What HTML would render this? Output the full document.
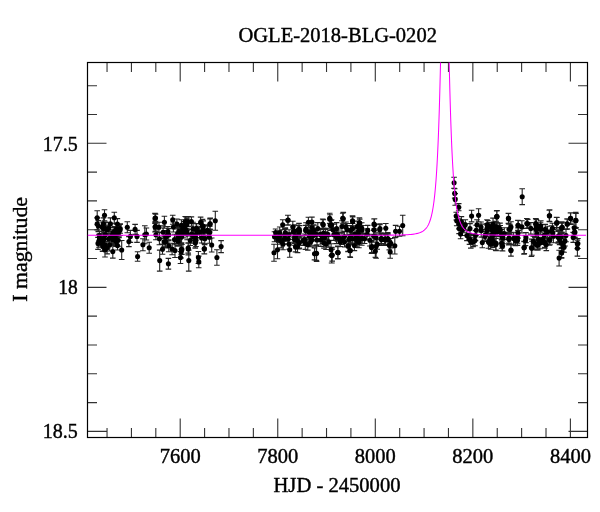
<!DOCTYPE html>
<html><head><meta charset="utf-8"><style>html,body{margin:0;padding:0;background:#fff;width:600px;height:512px;overflow:hidden}svg{display:block;will-change:transform}</style></head>
<body><svg width="600" height="512" viewBox="0 0 600 512" font-family="'Liberation Serif', serif" fill="#000">
<rect width="600" height="512" fill="#fff"/>
<path d="M107.04,437.5v-9.5 M107.04,62.5v9.5 M131.43,437.5v-9.5 M131.43,62.5v9.5 M155.81,437.5v-9.5 M155.81,62.5v9.5 M180.20,437.5v-19 M180.20,62.5v19 M204.59,437.5v-9.5 M204.59,62.5v9.5 M228.97,437.5v-9.5 M228.97,62.5v9.5 M253.36,437.5v-9.5 M253.36,62.5v9.5 M277.75,437.5v-19 M277.75,62.5v19 M302.14,437.5v-9.5 M302.14,62.5v9.5 M326.53,437.5v-9.5 M326.53,62.5v9.5 M350.91,437.5v-9.5 M350.91,62.5v9.5 M375.30,437.5v-19 M375.30,62.5v19 M399.69,437.5v-9.5 M399.69,62.5v9.5 M424.07,437.5v-9.5 M424.07,62.5v9.5 M448.46,437.5v-9.5 M448.46,62.5v9.5 M472.85,437.5v-19 M472.85,62.5v19 M497.24,437.5v-9.5 M497.24,62.5v9.5 M521.62,437.5v-9.5 M521.62,62.5v9.5 M546.01,437.5v-9.5 M546.01,62.5v9.5 M570.40,437.5v-19 M570.40,62.5v19 M87.5,85.68h9.5 M587.5,85.68h-9.5 M87.5,114.49h9.5 M587.5,114.49h-9.5 M87.5,143.30h19 M587.5,143.30h-19 M87.5,172.11h9.5 M587.5,172.11h-9.5 M87.5,200.92h9.5 M587.5,200.92h-9.5 M87.5,229.73h9.5 M587.5,229.73h-9.5 M87.5,258.54h9.5 M587.5,258.54h-9.5 M87.5,287.35h19 M587.5,287.35h-19 M87.5,316.16h9.5 M587.5,316.16h-9.5 M87.5,344.97h9.5 M587.5,344.97h-9.5 M87.5,373.78h9.5 M587.5,373.78h-9.5 M87.5,402.59h9.5 M587.5,402.59h-9.5 M87.5,431.40h19 M587.5,431.40h-19" fill="none" stroke="#333" stroke-width="1.1"/>
<rect x="87.5" y="62.5" width="500.0" height="375.0" fill="none" stroke="#000" stroke-width="1.2"/>
<path d="M108.7,222.7V233.7M105.9,222.7h5.6M105.9,233.7h5.6M111.5,231.6V243.1M108.7,231.6h5.6M108.7,243.1h5.6M116.2,237.0V246.4M113.4,237.0h5.6M113.4,246.4h5.6M105.0,238.8V250.6M102.2,238.8h5.6M102.2,250.6h5.6M99.0,234.4V247.3M96.2,234.4h5.6M96.2,247.3h5.6M120.2,223.7V233.3M117.4,223.7h5.6M117.4,233.3h5.6M98.3,220.5V231.6M95.5,220.5h5.6M95.5,231.6h5.6M99.4,231.4V240.5M96.6,231.4h5.6M96.6,240.5h5.6M108.7,233.5V244.2M105.9,233.5h5.6M105.9,244.2h5.6M117.4,218.6V229.6M114.6,218.6h5.6M114.6,229.6h5.6M113.2,227.4V238.2M110.4,227.4h5.6M110.4,238.2h5.6M117.3,227.7V239.6M114.5,227.7h5.6M114.5,239.6h5.6M105.3,230.1V239.4M102.5,230.1h5.6M102.5,239.4h5.6M115.6,234.4V245.0M112.8,234.4h5.6M112.8,245.0h5.6M117.5,241.0V250.0M114.7,241.0h5.6M114.7,250.0h5.6M102.8,234.2V247.1M100.0,234.2h5.6M100.0,247.1h5.6M107.1,225.1V234.4M104.3,225.1h5.6M104.3,234.4h5.6M112.5,230.3V239.7M109.7,230.3h5.6M109.7,239.7h5.6M105.6,222.1V235.0M102.8,222.1h5.6M102.8,235.0h5.6M115.4,233.2V242.6M112.6,233.2h5.6M112.6,242.6h5.6M99.4,231.5V243.6M96.6,231.5h5.6M96.6,243.6h5.6M102.1,222.0V231.8M99.3,222.0h5.6M99.3,231.8h5.6M114.8,226.5V236.0M112.0,226.5h5.6M112.0,236.0h5.6M112.8,234.5V244.4M110.0,234.5h5.6M110.0,244.4h5.6M104.2,232.4V245.3M101.4,232.4h5.6M101.4,245.3h5.6M116.5,224.2V234.1M113.7,224.2h5.6M113.7,234.1h5.6M107.1,241.5V253.9M104.3,241.5h5.6M104.3,253.9h5.6M102.9,241.4V251.4M100.1,241.4h5.6M100.1,251.4h5.6M115.8,226.6V235.9M113.0,226.6h5.6M113.0,235.9h5.6M100.1,233.5V244.8M97.3,233.5h5.6M97.3,244.8h5.6M103.6,223.2V234.0M100.8,223.2h5.6M100.8,234.0h5.6M120.1,224.5V235.5M117.3,224.5h5.6M117.3,235.5h5.6M111.2,232.2V241.8M108.4,232.2h5.6M108.4,241.8h5.6M118.9,224.6V236.8M116.1,224.6h5.6M116.1,236.8h5.6M103.7,231.9V244.6M100.9,231.9h5.6M100.9,244.6h5.6M102.5,238.3V251.1M99.7,238.3h5.6M99.7,251.1h5.6M186.7,226.3V235.7M183.9,226.3h5.6M183.9,235.7h5.6M163.1,225.8V238.6M160.3,225.8h5.6M160.3,238.6h5.6M168.7,228.6V240.8M165.9,228.6h5.6M165.9,240.8h5.6M178.7,226.5V236.6M175.9,226.5h5.6M175.9,236.6h5.6M166.9,230.6V240.5M164.1,230.6h5.6M164.1,240.5h5.6M177.7,227.6V240.0M174.9,227.6h5.6M174.9,240.0h5.6M179.2,228.6V238.4M176.4,228.6h5.6M176.4,238.4h5.6M162.5,244.1V254.2M159.7,244.1h5.6M159.7,254.2h5.6M174.5,234.2V244.7M171.7,234.2h5.6M171.7,244.7h5.6M178.0,232.6V242.1M175.2,232.6h5.6M175.2,242.1h5.6M172.1,243.2V254.8M169.3,243.2h5.6M169.3,254.8h5.6M181.4,219.7V231.0M178.6,219.7h5.6M178.6,231.0h5.6M165.9,230.8V243.4M163.1,230.8h5.6M163.1,243.4h5.6M181.6,229.8V242.7M178.8,229.8h5.6M178.8,242.7h5.6M185.5,223.5V235.4M182.7,223.5h5.6M182.7,235.4h5.6M193.0,222.3V235.3M190.2,222.3h5.6M190.2,235.3h5.6M186.9,218.3V230.9M184.1,218.3h5.6M184.1,230.9h5.6M203.4,225.3V237.1M200.6,225.3h5.6M200.6,237.1h5.6M204.8,232.9V244.7M202.0,232.9h5.6M202.0,244.7h5.6M207.5,224.9V237.4M204.7,224.9h5.6M204.7,237.4h5.6M195.4,231.4V242.7M192.6,231.4h5.6M192.6,242.7h5.6M200.6,217.1V227.7M197.8,217.1h5.6M197.8,227.7h5.6M199.6,226.3V237.9M196.8,226.3h5.6M196.8,237.9h5.6M209.8,226.2V238.7M207.0,226.2h5.6M207.0,238.7h5.6M203.2,220.9V232.2M200.4,220.9h5.6M200.4,232.2h5.6M196.0,234.1V246.5M193.2,234.1h5.6M193.2,246.5h5.6M187.1,228.3V239.7M184.3,228.3h5.6M184.3,239.7h5.6M197.0,227.6V237.5M194.2,227.6h5.6M194.2,237.5h5.6M202.5,219.4V232.1M199.7,219.4h5.6M199.7,232.1h5.6M191.4,229.6V238.7M188.6,229.6h5.6M188.6,238.7h5.6M289.1,229.7V239.4M286.3,229.7h5.6M286.3,239.4h5.6M311.5,227.2V238.8M308.7,227.2h5.6M308.7,238.8h5.6M294.4,233.6V245.3M291.6,233.6h5.6M291.6,245.3h5.6M285.3,227.8V238.6M282.5,227.8h5.6M282.5,238.6h5.6M307.8,239.6V250.1M305.0,239.6h5.6M305.0,250.1h5.6M299.6,225.6V235.8M296.8,225.6h5.6M296.8,235.8h5.6M309.4,230.3V242.1M306.6,230.3h5.6M306.6,242.1h5.6M313.2,230.1V240.9M310.4,230.1h5.6M310.4,240.9h5.6M288.2,234.1V243.9M285.4,234.1h5.6M285.4,243.9h5.6M293.3,226.8V237.0M290.5,226.8h5.6M290.5,237.0h5.6M309.0,225.4V238.3M306.2,225.4h5.6M306.2,238.3h5.6M294.7,230.9V243.4M291.9,230.9h5.6M291.9,243.4h5.6M279.5,230.7V242.5M276.7,230.7h5.6M276.7,242.5h5.6M299.1,228.3V237.3M296.3,228.3h5.6M296.3,237.3h5.6M283.0,238.8V249.7M280.2,238.8h5.6M280.2,249.7h5.6M278.9,233.0V242.5M276.1,233.0h5.6M276.1,242.5h5.6M279.7,227.0V238.5M276.9,227.0h5.6M276.9,238.5h5.6M294.5,224.9V237.1M291.7,224.9h5.6M291.7,237.1h5.6M313.5,224.8V236.6M310.7,224.8h5.6M310.7,236.6h5.6M285.4,228.4V237.4M282.6,228.4h5.6M282.6,237.4h5.6M295.5,230.6V242.4M292.7,230.6h5.6M292.7,242.4h5.6M284.6,229.5V241.2M281.8,229.5h5.6M281.8,241.2h5.6M297.3,234.8V246.3M294.5,234.8h5.6M294.5,246.3h5.6M306.0,222.7V235.4M303.2,222.7h5.6M303.2,235.4h5.6M281.2,235.1V247.9M278.4,235.1h5.6M278.4,247.9h5.6M304.7,234.0V245.5M301.9,234.0h5.6M301.9,245.5h5.6M311.7,234.8V245.3M308.9,234.8h5.6M308.9,245.3h5.6M299.0,236.1V248.9M296.2,236.1h5.6M296.2,248.9h5.6M333.2,224.1V235.7M330.4,224.1h5.6M330.4,235.7h5.6M320.2,228.6V240.2M317.4,228.6h5.6M317.4,240.2h5.6M345.9,222.0V231.8M343.1,222.0h5.6M343.1,231.8h5.6M336.8,228.2V240.4M334.0,228.2h5.6M334.0,240.4h5.6M326.0,239.1V249.5M323.2,239.1h5.6M323.2,249.5h5.6M314.1,225.3V236.1M311.3,225.3h5.6M311.3,236.1h5.6M337.5,232.1V241.2M334.7,232.1h5.6M334.7,241.2h5.6M350.5,225.6V234.9M347.7,225.6h5.6M347.7,234.9h5.6M350.0,232.0V244.2M347.2,232.0h5.6M347.2,244.2h5.6M317.0,235.2V244.8M314.2,235.2h5.6M314.2,244.8h5.6M335.8,228.5V240.3M333.0,228.5h5.6M333.0,240.3h5.6M357.3,221.1V232.0M354.5,221.1h5.6M354.5,232.0h5.6M357.5,233.5V244.6M354.7,233.5h5.6M354.7,244.6h5.6M324.5,231.9V243.8M321.7,231.9h5.6M321.7,243.8h5.6M341.9,220.8V232.1M339.1,220.8h5.6M339.1,232.1h5.6M325.6,229.4V239.9M322.8,229.4h5.6M322.8,239.9h5.6M352.3,232.6V245.0M349.5,232.6h5.6M349.5,245.0h5.6M358.4,228.5V239.5M355.6,228.5h5.6M355.6,239.5h5.6M338.6,232.4V243.4M335.8,232.4h5.6M335.8,243.4h5.6M340.3,237.3V246.5M337.5,237.3h5.6M337.5,246.5h5.6M358.5,224.9V237.1M355.7,224.9h5.6M355.7,237.1h5.6M338.1,230.0V241.0M335.3,230.0h5.6M335.3,241.0h5.6M344.5,236.4V247.0M341.7,236.4h5.6M341.7,247.0h5.6M357.8,232.2V244.8M355.0,232.2h5.6M355.0,244.8h5.6M323.5,228.1V238.8M320.7,228.1h5.6M320.7,238.8h5.6M350.8,230.1V242.7M348.0,230.1h5.6M348.0,242.7h5.6M333.8,228.9V240.4M331.0,228.9h5.6M331.0,240.4h5.6M356.3,234.2V243.7M353.5,234.2h5.6M353.5,243.7h5.6M349.0,234.3V244.2M346.2,234.3h5.6M346.2,244.2h5.6M344.4,231.3V241.6M341.6,231.3h5.6M341.6,241.6h5.6M327.8,228.3V240.2M325.0,228.3h5.6M325.0,240.2h5.6M316.1,228.9V239.9M313.3,228.9h5.6M313.3,239.9h5.6M322.5,232.6V243.4M319.7,232.6h5.6M319.7,243.4h5.6M328.8,236.5V247.1M326.0,236.5h5.6M326.0,247.1h5.6M336.5,232.1V243.6M333.7,232.1h5.6M333.7,243.6h5.6M341.9,233.3V244.4M339.1,233.3h5.6M339.1,244.4h5.6M352.6,223.5V233.4M349.8,223.5h5.6M349.8,233.4h5.6M347.0,223.5V235.8M344.2,223.5h5.6M344.2,235.8h5.6M355.1,227.9V240.6M352.3,227.9h5.6M352.3,240.6h5.6M320.9,233.5V246.5M318.1,233.5h5.6M318.1,246.5h5.6M387.8,232.5V244.4M385.0,232.5h5.6M385.0,244.4h5.6M364.6,234.1V243.5M361.8,234.1h5.6M361.8,243.5h5.6M385.8,223.5V233.0M383.0,223.5h5.6M383.0,233.0h5.6M369.9,234.3V246.0M367.1,234.3h5.6M367.1,246.0h5.6M355.7,232.0V244.6M352.9,232.0h5.6M352.9,244.6h5.6M390.8,238.5V247.9M388.0,238.5h5.6M388.0,247.9h5.6M373.7,230.4V242.2M370.9,230.4h5.6M370.9,242.2h5.6M362.0,225.5V234.7M359.2,225.5h5.6M359.2,234.7h5.6M358.9,236.6V247.7M356.1,236.6h5.6M356.1,247.7h5.6M376.0,232.7V242.3M373.2,232.7h5.6M373.2,242.3h5.6M361.8,232.3V245.2M359.0,232.3h5.6M359.0,245.2h5.6M389.3,240.5V249.9M386.5,240.5h5.6M386.5,249.9h5.6M357.3,235.3V247.3M354.5,235.3h5.6M354.5,247.3h5.6M367.1,228.9V239.8M364.3,228.9h5.6M364.3,239.8h5.6M374.1,225.3V234.4M371.3,225.3h5.6M371.3,234.4h5.6M380.9,232.7V245.1M378.1,232.7h5.6M378.1,245.1h5.6M361.7,222.8V233.5M358.9,222.8h5.6M358.9,233.5h5.6M362.2,233.5V243.2M359.4,233.5h5.6M359.4,243.2h5.6M492.5,230.3V242.1M489.7,230.3h5.6M489.7,242.1h5.6M494.7,225.1V236.5M491.9,225.1h5.6M491.9,236.5h5.6M481.2,224.1V237.0M478.4,224.1h5.6M478.4,237.0h5.6M492.6,228.3V240.3M489.8,228.3h5.6M489.8,240.3h5.6M493.0,218.1V230.7M490.2,218.1h5.6M490.2,230.7h5.6M488.4,236.1V248.2M485.6,236.1h5.6M485.6,248.2h5.6M491.1,222.4V231.7M488.3,222.4h5.6M488.3,231.7h5.6M475.0,234.9V245.8M472.2,234.9h5.6M472.2,245.8h5.6M462.4,224.0V235.5M459.6,224.0h5.6M459.6,235.5h5.6M470.8,235.4V248.1M468.0,235.4h5.6M468.0,248.1h5.6M487.3,224.7V236.0M484.5,224.7h5.6M484.5,236.0h5.6M482.3,237.2V247.8M479.5,237.2h5.6M479.5,247.8h5.6M500.0,223.1V235.2M497.2,223.1h5.6M497.2,235.2h5.6M499.2,223.2V232.3M496.4,223.2h5.6M496.4,232.3h5.6M485.4,229.4V240.0M482.6,229.4h5.6M482.6,240.0h5.6M492.5,225.5V235.3M489.7,225.5h5.6M489.7,235.3h5.6M508.8,232.4V245.0M506.0,232.4h5.6M506.0,245.0h5.6M517.5,232.1V243.2M514.7,232.1h5.6M514.7,243.2h5.6M521.9,220.8V233.0M519.1,220.8h5.6M519.1,233.0h5.6M493.8,222.1V231.3M491.0,222.1h5.6M491.0,231.3h5.6M536.5,224.4V234.0M533.7,224.4h5.6M533.7,234.0h5.6M513.6,232.7V244.1M510.8,232.7h5.6M510.8,244.1h5.6M492.9,234.7V247.5M490.1,234.7h5.6M490.1,247.5h5.6M511.0,221.8V232.2M508.2,221.8h5.6M508.2,232.2h5.6M504.3,227.8V239.5M501.5,227.8h5.6M501.5,239.5h5.6M518.0,227.9V238.1M515.2,227.9h5.6M515.2,238.1h5.6M490.7,239.3V249.3M487.9,239.3h5.6M487.9,249.3h5.6M492.1,235.3V245.9M489.3,235.3h5.6M489.3,245.9h5.6M534.9,237.4V249.4M532.1,237.4h5.6M532.1,249.4h5.6M493.7,227.7V240.3M490.9,227.7h5.6M490.9,240.3h5.6M502.2,231.7V242.8M499.4,231.7h5.6M499.4,242.8h5.6M536.9,227.4V240.3M534.1,227.4h5.6M534.1,240.3h5.6M530.8,222.6V234.1M528.0,222.6h5.6M528.0,234.1h5.6M495.8,225.4V235.2M493.0,225.4h5.6M493.0,235.2h5.6M492.6,224.8V235.9M489.8,224.8h5.6M489.8,235.9h5.6M496.2,221.2V232.1M493.4,221.2h5.6M493.4,232.1h5.6M503.1,232.5V243.8M500.3,232.5h5.6M500.3,243.8h5.6M553.4,229.8V242.8M550.6,229.8h5.6M550.6,242.8h5.6M574.2,221.8V233.7M571.4,221.8h5.6M571.4,233.7h5.6M546.3,238.5V250.6M543.5,238.5h5.6M543.5,250.6h5.6M561.4,238.1V248.5M558.6,238.1h5.6M558.6,248.5h5.6M547.6,226.2V237.6M544.8,226.2h5.6M544.8,237.6h5.6M561.7,221.9V233.9M558.9,221.9h5.6M558.9,233.9h5.6M544.4,228.8V241.4M541.6,228.8h5.6M541.6,241.4h5.6M538.5,234.1V244.8M535.7,234.1h5.6M535.7,244.8h5.6M561.3,232.1V241.5M558.5,232.1h5.6M558.5,241.5h5.6M558.1,231.4V243.1M555.3,231.4h5.6M555.3,243.1h5.6M558.5,230.4V241.9M555.7,230.4h5.6M555.7,241.9h5.6M551.6,225.7V236.1M548.8,225.7h5.6M548.8,236.1h5.6M566.0,229.4V241.7M563.2,229.4h5.6M563.2,241.7h5.6M539.9,237.2V248.7M537.1,237.2h5.6M537.1,248.7h5.6M97.2,210.7V224.7M94.4,210.7h5.6M94.4,224.7h5.6M97.2,217.9V229.9M94.4,217.9h5.6M94.4,229.9h5.6M104.5,209.8V220.8M101.7,209.8h5.6M101.7,220.8h5.6M114.3,212.2V223.2M111.5,212.2h5.6M111.5,223.2h5.6M110.4,217.9V229.9M107.6,217.9h5.6M107.6,229.9h5.6M103.4,217.9V229.9M100.6,217.9h5.6M100.6,229.9h5.6M127.3,221.8V232.8M124.5,221.8h5.6M124.5,232.8h5.6M135.1,224.4V234.4M132.3,224.4h5.6M132.3,234.4h5.6M144.8,225.8V243.8M142.0,225.8h5.6M142.0,243.8h5.6M146.4,228.0V240.0M143.6,228.0h5.6M143.6,240.0h5.6M130.4,230.4V242.4M127.6,230.4h5.6M127.6,242.4h5.6M137.0,230.4V242.4M134.2,230.4h5.6M134.2,242.4h5.6M128.9,236.6V246.6M126.1,236.6h5.6M126.1,246.6h5.6M142.9,238.7V250.7M140.1,238.7h5.6M140.1,250.7h5.6M149.2,242.2V253.2M146.4,242.2h5.6M146.4,253.2h5.6M137.6,251.8V261.2M134.8,251.8h5.6M134.8,261.2h5.6M105.0,243.0V257.0M102.2,243.0h5.6M102.2,257.0h5.6M112.8,245.1V258.1M110.0,245.1h5.6M110.0,258.1h5.6M121.7,240.5V259.5M118.9,240.5h5.6M118.9,259.5h5.6M155.0,213.4V223.4M152.2,213.4h5.6M152.2,223.4h5.6M155.0,222.0V232.0M152.2,222.0h5.6M152.2,232.0h5.6M119.0,225.7V237.7M116.2,225.7h5.6M116.2,237.7h5.6M118.2,234.3V246.3M115.5,234.3h5.6M115.5,246.3h5.6M98.0,237.4V249.4M95.2,237.4h5.6M95.2,249.4h5.6M109.7,239.0V251.0M106.9,239.0h5.6M106.9,251.0h5.6M155.5,214.1V222.1M152.7,214.1h5.6M152.7,222.1h5.6M155.5,221.2V231.2M152.7,221.2h5.6M152.7,231.2h5.6M164.4,216.3V228.3M161.6,216.3h5.6M161.6,228.3h5.6M172.7,215.2V224.2M169.9,215.2h5.6M169.9,224.2h5.6M173.4,222.0V232.0M170.6,222.0h5.6M170.6,232.0h5.6M186.0,217.0V229.0M183.2,217.0h5.6M183.2,229.0h5.6M191.4,216.9V226.3M188.6,216.9h5.6M188.6,226.3h5.6M196.1,223.6V233.6M193.3,223.6h5.6M193.3,233.6h5.6M210.2,218.1V229.7M207.4,218.1h5.6M207.4,229.7h5.6M215.3,211.3V230.3M212.5,211.3h5.6M212.5,230.3h5.6M204.7,226.0V236.0M201.9,226.0h5.6M201.9,236.0h5.6M159.4,232.8V244.8M156.6,232.8h5.6M156.6,244.8h5.6M165.6,235.9V247.9M162.8,235.9h5.6M162.8,247.9h5.6M168.8,239.8V251.8M165.9,239.8h5.6M165.9,251.8h5.6M175.0,243.5V257.5M172.2,243.5h5.6M172.2,257.5h5.6M181.2,246.0V258.0M178.4,246.0h5.6M178.4,258.0h5.6M188.3,242.9V254.9M185.5,242.9h5.6M185.5,254.9h5.6M180.5,251.5V263.5M177.7,251.5h5.6M177.7,263.5h5.6M188.8,250.1V271.1M185.9,250.1h5.6M185.9,271.1h5.6M159.7,250.1V271.1M156.9,250.1h5.6M156.9,271.1h5.6M168.4,258.4V269.1M165.6,258.4h5.6M165.6,269.1h5.6M198.4,251.5V263.5M195.6,251.5h5.6M195.6,263.5h5.6M198.8,256.1V267.7M195.9,256.1h5.6M195.9,267.7h5.6M204.4,243.9V253.9M201.6,243.9h5.6M201.6,253.9h5.6M211.7,238.0V252.0M208.9,238.0h5.6M208.9,252.0h5.6M221.1,240.6V252.6M218.3,240.6h5.6M218.3,252.6h5.6M216.9,249.7V265.3M214.1,249.7h5.6M214.1,265.3h5.6M195.3,235.9V247.9M192.5,235.9h5.6M192.5,247.9h5.6M193.8,231.2V243.2M190.9,231.2h5.6M190.9,243.2h5.6M181.2,231.2V243.2M178.4,231.2h5.6M178.4,243.2h5.6M209.4,231.2V243.2M206.6,231.2h5.6M206.6,243.2h5.6M288.1,215.3V224.7M285.3,215.3h5.6M285.3,224.7h5.6M282.7,219.7V229.7M279.9,219.7h5.6M279.9,229.7h5.6M292.8,221.2V232.8M290.0,221.2h5.6M290.0,232.8h5.6M308.4,217.3V227.3M305.6,217.3h5.6M305.6,227.3h5.6M323.3,219.7V229.7M320.5,219.7h5.6M320.5,229.7h5.6M330.0,214.7V223.7M327.2,214.7h5.6M327.2,223.7h5.6M331.1,220.5V230.5M328.3,220.5h5.6M328.3,230.5h5.6M275.6,229.0V236.0M272.8,229.0h5.6M272.8,236.0h5.6M274.0,244.3V261.3M271.2,244.3h5.6M271.2,261.3h5.6M277.5,240.7V258.7M274.7,240.7h5.6M274.7,258.7h5.6M289.7,242.2V257.2M286.9,242.2h5.6M286.9,257.2h5.6M316.6,245.8V261.4M313.8,245.8h5.6M313.8,261.4h5.6M331.1,243.7V255.7M328.3,243.7h5.6M328.3,255.7h5.6M331.9,247.4V263.0M329.1,247.4h5.6M329.1,263.0h5.6M338.0,246.8V258.8M335.2,246.8h5.6M335.2,258.8h5.6M336.6,222.6V234.6M333.8,222.6h5.6M333.8,234.6h5.6M299.0,223.4V235.4M296.2,223.4h5.6M296.2,235.4h5.6M317.8,222.6V234.6M315.0,222.6h5.6M315.0,234.6h5.6M297.5,240.6V252.6M294.7,240.6h5.6M294.7,252.6h5.6M305.3,237.4V249.4M302.5,237.4h5.6M302.5,249.4h5.6M343.3,212.4V225.1M340.5,212.4h5.6M340.5,225.1h5.6M352.7,216.9V226.3M349.9,216.9h5.6M349.9,226.3h5.6M359.7,219.1V227.1M356.9,219.1h5.6M356.9,227.1h5.6M374.5,218.7V230.7M371.7,218.7h5.6M371.7,230.7h5.6M380.0,223.9V233.3M377.2,223.9h5.6M377.2,233.3h5.6M395.6,225.4V237.1M392.8,225.4h5.6M392.8,237.1h5.6M399.5,226.2V236.2M396.7,226.2h5.6M396.7,236.2h5.6M402.7,215.3V235.7M399.9,215.3h5.6M399.9,235.7h5.6M331.6,219.7V229.7M328.8,219.7h5.6M328.8,229.7h5.6M384.7,233.5V245.5M381.9,233.5h5.6M381.9,245.5h5.6M387.8,233.5V245.5M385.0,233.5h5.6M385.0,245.5h5.6M381.6,233.5V245.5M378.8,233.5h5.6M378.8,245.5h5.6M394.8,237.6V254.0M392.0,237.6h5.6M392.0,254.0h5.6M390.2,245.7V258.3M387.4,245.7h5.6M387.4,258.3h5.6M376.1,234.9V258.3M373.3,234.9h5.6M373.3,258.3h5.6M371.9,240.6V252.6M369.1,240.6h5.6M369.1,252.6h5.6M350.3,243.5V257.5M347.5,243.5h5.6M347.5,257.5h5.6M337.8,246.0V259.0M335.0,246.0h5.6M335.0,259.0h5.6M331.6,247.4V263.0M328.8,247.4h5.6M328.8,263.0h5.6M348.0,239.8V251.8M345.2,239.8h5.6M345.2,251.8h5.6M375.3,245.2V257.2M372.5,245.2h5.6M372.5,257.2h5.6M454.1,177.2V188.4M451.3,177.2h5.6M451.3,188.4h5.6M454.7,188.7V198.1M451.9,188.7h5.6M451.9,198.1h5.6M455.2,193.6V205.2M452.4,193.6h5.6M452.4,205.2h5.6M458.8,203.6V210.8M455.9,203.6h5.6M455.9,210.8h5.6M456.2,212.2V220.0M453.4,212.2h5.6M453.4,220.0h5.6M456.7,215.8V225.8M453.9,215.8h5.6M453.9,225.8h5.6M459.1,218.9V228.9M456.3,218.9h5.6M456.3,228.9h5.6M461.4,216.6V226.6M458.6,216.6h5.6M458.6,226.6h5.6M459.1,223.6V233.6M456.3,223.6h5.6M456.3,233.6h5.6M460.6,229.3V238.7M457.8,229.3h5.6M457.8,238.7h5.6M471.6,210.3V221.9M468.8,210.3h5.6M468.8,221.9h5.6M478.6,208.8V221.8M475.8,208.8h5.6M475.8,221.8h5.6M470.0,223.6V233.6M467.2,223.6h5.6M467.2,233.6h5.6M477.0,219.7V229.7M474.2,219.7h5.6M474.2,229.7h5.6M481.0,222.0V232.0M478.2,222.0h5.6M478.2,232.0h5.6M476.2,225.2V235.2M473.4,225.2h5.6M473.4,235.2h5.6M466.9,230.6V240.6M464.1,230.6h5.6M464.1,240.6h5.6M470.0,234.5V244.5M467.2,234.5h5.6M467.2,244.5h5.6M473.1,237.2V246.6M470.3,237.2h5.6M470.3,246.6h5.6M475.5,230.6V240.6M472.7,230.6h5.6M472.7,240.6h5.6M465.3,219.7V229.7M462.5,219.7h5.6M462.5,229.7h5.6M463.8,222.8V232.8M460.9,222.8h5.6M460.9,232.8h5.6M487.0,219.8V229.6M484.2,219.8h5.6M484.2,229.6h5.6M487.0,223.6V233.6M484.2,223.6h5.6M484.2,233.6h5.6M496.8,211.0V222.8M493.9,211.0h5.6M493.9,222.8h5.6M469.4,234.3V244.3M466.6,234.3h5.6M466.6,244.3h5.6M485.0,231.4V241.4M482.2,231.4h5.6M482.2,241.4h5.6M490.9,233.4V245.2M488.1,233.4h5.6M488.1,245.2h5.6M495.8,238.4V250.0M493.0,238.4h5.6M493.0,250.0h5.6M497.7,226.5V236.5M494.9,226.5h5.6M494.9,236.5h5.6M501.6,229.5V239.5M498.8,229.5h5.6M498.8,239.5h5.6M501.6,238.2V248.2M498.8,238.2h5.6M498.8,248.2h5.6M522.2,188.8V204.6M519.4,188.8h5.6M519.4,204.6h5.6M496.7,210.7V222.5M493.9,210.7h5.6M493.9,222.5h5.6M508.6,213.4V223.8M505.8,213.4h5.6M505.8,223.8h5.6M487.8,220.5V230.5M485.0,220.5h5.6M485.0,230.5h5.6M497.1,223.3V233.3M494.3,223.3h5.6M494.3,233.3h5.6M490.2,234.4V244.4M487.4,234.4h5.6M487.4,244.4h5.6M496.1,235.8V250.6M493.3,235.8h5.6M493.3,250.6h5.6M502.6,241.0V251.0M499.8,241.0h5.6M499.8,251.0h5.6M511.0,245.0V256.2M508.2,245.0h5.6M508.2,256.2h5.6M524.0,241.3V254.3M521.2,241.3h5.6M521.2,254.3h5.6M531.4,239.1V256.5M528.6,239.1h5.6M528.6,256.5h5.6M538.0,240.0V250.0M535.2,240.0h5.6M535.2,250.0h5.6M510.0,224.2V234.2M507.2,224.2h5.6M507.2,234.2h5.6M518.4,220.5V230.5M515.6,220.5h5.6M515.6,230.5h5.6M527.7,219.4V228.0M524.9,219.4h5.6M524.9,228.0h5.6M536.1,219.0V232.0M533.3,219.0h5.6M533.3,232.0h5.6M540.7,224.2V234.2M537.9,224.2h5.6M537.9,234.2h5.6M509.1,234.4V244.4M506.3,234.4h5.6M506.3,244.4h5.6M517.5,235.4V245.4M514.7,235.4h5.6M514.7,245.4h5.6M525.9,232.6V242.6M523.1,232.6h5.6M523.1,242.6h5.6M533.3,236.3V246.3M530.5,236.3h5.6M530.5,246.3h5.6M542.6,234.4V244.4M539.8,234.4h5.6M539.8,244.4h5.6M549.6,209.9V221.6M546.8,209.9h5.6M546.8,221.6h5.6M570.7,212.8V224.4M567.9,212.8h5.6M567.9,224.4h5.6M575.7,212.4V228.4M572.9,212.4h5.6M572.9,228.4h5.6M556.6,217.4V229.0M553.8,217.4h5.6M553.8,229.0h5.6M567.4,219.1V229.1M564.6,219.1h5.6M564.6,229.1h5.6M540.8,220.7V230.7M538.0,220.7h5.6M538.0,230.7h5.6M552.4,223.2V233.2M549.6,223.2h5.6M549.6,233.2h5.6M561.6,223.2V233.2M558.8,223.2h5.6M558.8,233.2h5.6M574.9,227.4V237.4M572.1,227.4h5.6M572.1,237.4h5.6M537.5,239.8V249.8M534.7,239.8h5.6M534.7,249.8h5.6M545.0,238.2V248.2M542.2,238.2h5.6M542.2,248.2h5.6M550.0,234.8V244.8M547.2,234.8h5.6M547.2,244.8h5.6M563.2,238.2V248.2M560.4,238.2h5.6M560.4,248.2h5.6M564.1,242.3V252.3M561.3,242.3h5.6M561.3,252.3h5.6M561.6,248.1V258.1M558.8,248.1h5.6M558.8,258.1h5.6M559.1,250.2V266.0M556.3,250.2h5.6M556.3,266.0h5.6M577.9,238.5V248.5M575.1,238.5h5.6M575.1,248.5h5.6M577.4,240.3V256.1M574.6,240.3h5.6M574.6,256.1h5.6M573.2,232.4V242.4M570.4,232.4h5.6M570.4,242.4h5.6M155.9,229.8V239.8M153.1,229.8h5.6M153.1,239.8h5.6M159.0,222.2V232.2M156.2,222.2h5.6M156.2,232.2h5.6M167.9,226.6V236.6M165.1,226.6h5.6M165.1,236.6h5.6M164.1,236.8V246.8M161.3,236.8h5.6M161.3,246.8h5.6M178.0,235.5V245.5M175.2,235.5h5.6M175.2,245.5h5.6M184.4,221.6V231.6M181.6,221.6h5.6M181.6,231.6h5.6M183.1,227.9V237.9M180.3,227.9h5.6M180.3,237.9h5.6M188.2,216.5V226.5M185.4,216.5h5.6M185.4,226.5h5.6M188.2,243.1V253.1M185.4,243.1h5.6M185.4,253.1h5.6M181.9,244.4V254.4M179.1,244.4h5.6M179.1,254.4h5.6M185.2,216.5V226.5M182.4,216.5h5.6M182.4,226.5h5.6M209.9,219.0V229.0M207.1,219.0h5.6M207.1,229.0h5.6M196.6,223.5V233.5M193.8,223.5h5.6M193.8,233.5h5.6M202.9,224.7V234.7M200.1,224.7h5.6M200.1,234.7h5.6M207.4,225.4V235.4M204.6,225.4h5.6M204.6,235.4h5.6M182.6,224.1V234.1M179.8,224.1h5.6M179.8,234.1h5.6M176.9,219.0V229.0M174.1,219.0h5.6M174.1,229.0h5.6M178.2,236.2V246.2M175.4,236.2h5.6M175.4,246.2h5.6M190.2,235.5V245.5M187.4,235.5h5.6M187.4,245.5h5.6M195.3,238.1V248.1M192.5,238.1h5.6M192.5,248.1h5.6M204.2,243.8V253.8M201.4,243.8h5.6M201.4,253.8h5.6M181.3,244.4V254.4M178.5,244.4h5.6M178.5,254.4h5.6M194.0,230.5V240.5M191.2,230.5h5.6M191.2,240.5h5.6M201.6,233.0V243.0M198.8,233.0h5.6M198.8,243.0h5.6M287.8,215.2V225.2M285.0,215.2h5.6M285.0,225.2h5.6M274.5,231.7V241.7M271.7,231.7h5.6M271.7,241.7h5.6M289.1,239.3V249.3M286.3,239.3h5.6M286.3,249.3h5.6M295.5,241.9V251.9M292.7,241.9h5.6M292.7,251.9h5.6M299.3,238.1V248.1M296.5,238.1h5.6M296.5,248.1h5.6M298.0,225.4V235.4M295.2,225.4h5.6M295.2,235.4h5.6M305.6,225.4V235.4M302.8,225.4h5.6M302.8,235.4h5.6M312.0,222.8V232.8M309.2,222.8h5.6M309.2,232.8h5.6M303.0,235.5V245.5M300.2,235.5h5.6M300.2,245.5h5.6M310.7,236.8V246.8M307.9,236.8h5.6M307.9,246.8h5.6M314.5,247.9V259.9M311.7,247.9h5.6M311.7,259.9h5.6M277.7,234.3V244.3M274.9,234.3h5.6M274.9,244.3h5.6M284.0,234.3V244.3M281.2,234.3h5.6M281.2,244.3h5.6M329.7,213.3V223.3M326.9,213.3h5.6M326.9,223.3h5.6M342.7,213.3V223.3M339.9,213.3h5.6M339.9,223.3h5.6M352.5,215.9V225.9M349.7,215.9h5.6M349.7,225.9h5.6M322.7,219.0V229.0M319.9,219.0h5.6M319.9,229.0h5.6M330.3,220.3V230.3M327.5,220.3h5.6M327.5,230.3h5.6M316.3,246.2V260.2M313.5,246.2h5.6M313.5,260.2h5.6M332.2,249.1V261.1M329.4,249.1h5.6M329.4,261.1h5.6M337.9,246.6V258.6M335.1,246.6h5.6M335.1,258.6h5.6M350.0,244.7V256.7M347.2,244.7h5.6M347.2,256.7h5.6M348.1,241.2V251.2M345.3,241.2h5.6M345.3,251.2h5.6M354.4,240.6V250.6M351.6,240.6h5.6M351.6,250.6h5.6M324.0,238.1V248.1M321.2,238.1h5.6M321.2,248.1h5.6M311.9,217.1V227.1M309.1,217.1h5.6M309.1,227.1h5.6M374.0,219.0V229.0M371.2,219.0h5.6M371.2,229.0h5.6M379.7,224.7V234.7M376.9,224.7h5.6M376.9,234.7h5.6M381.6,233.6V243.6M378.8,233.6h5.6M378.8,243.6h5.6M385.5,234.9V244.9M382.7,234.9h5.6M382.7,244.9h5.6M388.0,234.3V244.3M385.2,234.3h5.6M385.2,244.3h5.6M359.4,217.8V227.8M356.6,217.8h5.6M356.6,227.8h5.6M367.7,225.4V235.4M364.9,225.4h5.6M364.9,235.4h5.6M377.2,239.3V249.3M374.4,239.3h5.6M374.4,249.3h5.6M371.5,241.5V253.5M368.7,241.5h5.6M368.7,253.5h5.6M497.0,210.5V222.5M494.2,210.5h5.6M494.2,222.5h5.6M508.4,213.4V223.4M505.6,213.4h5.6M505.6,223.4h5.6M510.9,244.1V256.1M508.1,244.1h5.6M508.1,256.1h5.6M524.3,241.6V253.6M521.5,241.6h5.6M521.5,253.6h5.6M531.9,241.2V255.2M529.1,241.2h5.6M529.1,255.2h5.6M495.7,238.4V250.4M492.9,238.4h5.6M492.9,250.4h5.6M502.0,240.7V250.7M499.2,240.7h5.6M499.2,250.7h5.6M496.3,225.5V235.5M493.5,225.5h5.6M493.5,235.5h5.6M500.2,225.5V235.5M497.4,225.5h5.6M497.4,235.5h5.6M509.0,224.2V234.2M506.2,224.2h5.6M506.2,234.2h5.6M517.9,220.4V230.4M515.1,220.4h5.6M515.1,230.4h5.6M526.8,218.5V228.5M524.0,218.5h5.6M524.0,228.5h5.6M535.7,218.5V228.5M532.9,218.5h5.6M532.9,228.5h5.6M535.7,224.2V234.2M532.9,224.2h5.6M532.9,234.2h5.6M515.4,235.6V245.6M512.6,235.6h5.6M512.6,245.6h5.6M525.5,235.6V245.6M522.7,235.6h5.6M522.7,245.6h5.6M509.0,233.1V243.1M506.2,233.1h5.6M506.2,243.1h5.6M490.0,234.3V244.3M487.2,234.3h5.6M487.2,244.3h5.6M549.3,210.2V221.2M546.5,210.2h5.6M546.5,221.2h5.6M570.5,212.9V223.9M567.7,212.9h5.6M567.7,223.9h5.6M576.0,213.5V227.5M573.2,213.5h5.6M573.2,227.5h5.6M556.9,217.5V227.5M554.1,217.5h5.6M554.1,227.5h5.6M567.1,218.9V228.9M564.3,218.9h5.6M564.3,228.9h5.6M562.3,222.3V232.3M559.5,222.3h5.6M559.5,232.3h5.6M540.5,222.3V232.3M537.7,222.3h5.6M537.7,232.3h5.6M536.4,219.6V229.6M533.6,219.6h5.6M533.6,229.6h5.6M545.2,224.4V234.4M542.4,224.4h5.6M542.4,234.4h5.6M574.6,227.1V237.1M571.8,227.1h5.6M571.8,237.1h5.6M537.0,240.1V250.1M534.2,240.1h5.6M534.2,250.1h5.6M544.6,237.3V247.3M541.8,237.3h5.6M541.8,247.3h5.6M549.3,235.3V245.3M546.5,235.3h5.6M546.5,245.3h5.6M563.0,242.1V252.1M560.2,242.1h5.6M560.2,252.1h5.6M561.6,247.6V257.6M558.8,247.6h5.6M558.8,257.6h5.6M577.3,238.7V248.7M574.5,238.7h5.6M574.5,248.7h5.6M559.6,234.6V244.6M556.8,234.6h5.6M556.8,244.6h5.6M565.0,236.0V246.0M562.2,236.0h5.6M562.2,246.0h5.6M552.8,227.8V237.8M550.0,227.8h5.6M550.0,237.8h5.6" fill="none" stroke="#222" stroke-width="1.1"/>
<g fill="#000"><circle cx="108.7" cy="228.2" r="2.55"/><circle cx="111.5" cy="237.3" r="2.55"/><circle cx="116.2" cy="241.7" r="2.55"/><circle cx="105.0" cy="244.7" r="2.55"/><circle cx="99.0" cy="240.9" r="2.55"/><circle cx="120.2" cy="228.5" r="2.55"/><circle cx="98.3" cy="226.0" r="2.55"/><circle cx="99.4" cy="235.9" r="2.55"/><circle cx="108.7" cy="238.8" r="2.55"/><circle cx="117.4" cy="224.1" r="2.55"/><circle cx="113.2" cy="232.8" r="2.55"/><circle cx="117.3" cy="233.7" r="2.55"/><circle cx="105.3" cy="234.7" r="2.55"/><circle cx="115.6" cy="239.7" r="2.55"/><circle cx="117.5" cy="245.5" r="2.55"/><circle cx="102.8" cy="240.7" r="2.55"/><circle cx="107.1" cy="229.8" r="2.55"/><circle cx="112.5" cy="235.0" r="2.55"/><circle cx="105.6" cy="228.5" r="2.55"/><circle cx="115.4" cy="237.9" r="2.55"/><circle cx="99.4" cy="237.6" r="2.55"/><circle cx="102.1" cy="226.9" r="2.55"/><circle cx="114.8" cy="231.2" r="2.55"/><circle cx="112.8" cy="239.4" r="2.55"/><circle cx="104.2" cy="238.9" r="2.55"/><circle cx="116.5" cy="229.1" r="2.55"/><circle cx="107.1" cy="247.7" r="2.55"/><circle cx="102.9" cy="246.4" r="2.55"/><circle cx="115.8" cy="231.2" r="2.55"/><circle cx="100.1" cy="239.2" r="2.55"/><circle cx="103.6" cy="228.6" r="2.55"/><circle cx="120.1" cy="230.0" r="2.55"/><circle cx="111.2" cy="237.0" r="2.55"/><circle cx="118.9" cy="230.7" r="2.55"/><circle cx="103.7" cy="238.2" r="2.55"/><circle cx="102.5" cy="244.7" r="2.55"/><circle cx="186.7" cy="231.0" r="2.55"/><circle cx="163.1" cy="232.2" r="2.55"/><circle cx="168.7" cy="234.7" r="2.55"/><circle cx="178.7" cy="231.6" r="2.55"/><circle cx="166.9" cy="235.6" r="2.55"/><circle cx="177.7" cy="233.8" r="2.55"/><circle cx="179.2" cy="233.5" r="2.55"/><circle cx="162.5" cy="249.2" r="2.55"/><circle cx="174.5" cy="239.5" r="2.55"/><circle cx="178.0" cy="237.4" r="2.55"/><circle cx="172.1" cy="249.0" r="2.55"/><circle cx="181.4" cy="225.3" r="2.55"/><circle cx="165.9" cy="237.1" r="2.55"/><circle cx="181.6" cy="236.2" r="2.55"/><circle cx="185.5" cy="229.5" r="2.55"/><circle cx="193.0" cy="228.8" r="2.55"/><circle cx="186.9" cy="224.6" r="2.55"/><circle cx="203.4" cy="231.2" r="2.55"/><circle cx="204.8" cy="238.8" r="2.55"/><circle cx="207.5" cy="231.2" r="2.55"/><circle cx="195.4" cy="237.0" r="2.55"/><circle cx="200.6" cy="222.4" r="2.55"/><circle cx="199.6" cy="232.1" r="2.55"/><circle cx="209.8" cy="232.4" r="2.55"/><circle cx="203.2" cy="226.5" r="2.55"/><circle cx="196.0" cy="240.3" r="2.55"/><circle cx="187.1" cy="234.0" r="2.55"/><circle cx="197.0" cy="232.5" r="2.55"/><circle cx="202.5" cy="225.7" r="2.55"/><circle cx="191.4" cy="234.1" r="2.55"/><circle cx="289.1" cy="234.5" r="2.55"/><circle cx="311.5" cy="233.0" r="2.55"/><circle cx="294.4" cy="239.5" r="2.55"/><circle cx="285.3" cy="233.2" r="2.55"/><circle cx="307.8" cy="244.8" r="2.55"/><circle cx="299.6" cy="230.7" r="2.55"/><circle cx="309.4" cy="236.2" r="2.55"/><circle cx="313.2" cy="235.5" r="2.55"/><circle cx="288.2" cy="239.0" r="2.55"/><circle cx="293.3" cy="231.9" r="2.55"/><circle cx="309.0" cy="231.9" r="2.55"/><circle cx="294.7" cy="237.1" r="2.55"/><circle cx="279.5" cy="236.6" r="2.55"/><circle cx="299.1" cy="232.8" r="2.55"/><circle cx="283.0" cy="244.3" r="2.55"/><circle cx="278.9" cy="237.8" r="2.55"/><circle cx="279.7" cy="232.8" r="2.55"/><circle cx="294.5" cy="231.0" r="2.55"/><circle cx="313.5" cy="230.7" r="2.55"/><circle cx="285.4" cy="232.9" r="2.55"/><circle cx="295.5" cy="236.5" r="2.55"/><circle cx="284.6" cy="235.4" r="2.55"/><circle cx="297.3" cy="240.6" r="2.55"/><circle cx="306.0" cy="229.1" r="2.55"/><circle cx="281.2" cy="241.5" r="2.55"/><circle cx="304.7" cy="239.8" r="2.55"/><circle cx="311.7" cy="240.0" r="2.55"/><circle cx="299.0" cy="242.5" r="2.55"/><circle cx="333.2" cy="229.9" r="2.55"/><circle cx="320.2" cy="234.4" r="2.55"/><circle cx="345.9" cy="226.9" r="2.55"/><circle cx="336.8" cy="234.3" r="2.55"/><circle cx="326.0" cy="244.3" r="2.55"/><circle cx="314.1" cy="230.7" r="2.55"/><circle cx="337.5" cy="236.7" r="2.55"/><circle cx="350.5" cy="230.3" r="2.55"/><circle cx="350.0" cy="238.1" r="2.55"/><circle cx="317.0" cy="240.0" r="2.55"/><circle cx="335.8" cy="234.4" r="2.55"/><circle cx="357.3" cy="226.6" r="2.55"/><circle cx="357.5" cy="239.0" r="2.55"/><circle cx="324.5" cy="237.8" r="2.55"/><circle cx="341.9" cy="226.5" r="2.55"/><circle cx="325.6" cy="234.6" r="2.55"/><circle cx="352.3" cy="238.8" r="2.55"/><circle cx="358.4" cy="234.0" r="2.55"/><circle cx="338.6" cy="237.9" r="2.55"/><circle cx="340.3" cy="241.9" r="2.55"/><circle cx="358.5" cy="231.0" r="2.55"/><circle cx="338.1" cy="235.5" r="2.55"/><circle cx="344.5" cy="241.7" r="2.55"/><circle cx="357.8" cy="238.5" r="2.55"/><circle cx="323.5" cy="233.4" r="2.55"/><circle cx="350.8" cy="236.4" r="2.55"/><circle cx="333.8" cy="234.7" r="2.55"/><circle cx="356.3" cy="239.0" r="2.55"/><circle cx="349.0" cy="239.3" r="2.55"/><circle cx="344.4" cy="236.5" r="2.55"/><circle cx="327.8" cy="234.3" r="2.55"/><circle cx="316.1" cy="234.4" r="2.55"/><circle cx="322.5" cy="238.0" r="2.55"/><circle cx="328.8" cy="241.8" r="2.55"/><circle cx="336.5" cy="237.8" r="2.55"/><circle cx="341.9" cy="238.9" r="2.55"/><circle cx="352.6" cy="228.5" r="2.55"/><circle cx="347.0" cy="229.6" r="2.55"/><circle cx="355.1" cy="234.3" r="2.55"/><circle cx="320.9" cy="240.0" r="2.55"/><circle cx="387.8" cy="238.5" r="2.55"/><circle cx="364.6" cy="238.8" r="2.55"/><circle cx="385.8" cy="228.2" r="2.55"/><circle cx="369.9" cy="240.2" r="2.55"/><circle cx="355.7" cy="238.3" r="2.55"/><circle cx="390.8" cy="243.2" r="2.55"/><circle cx="373.7" cy="236.3" r="2.55"/><circle cx="362.0" cy="230.1" r="2.55"/><circle cx="358.9" cy="242.2" r="2.55"/><circle cx="376.0" cy="237.5" r="2.55"/><circle cx="361.8" cy="238.7" r="2.55"/><circle cx="389.3" cy="245.2" r="2.55"/><circle cx="357.3" cy="241.3" r="2.55"/><circle cx="367.1" cy="234.3" r="2.55"/><circle cx="374.1" cy="229.9" r="2.55"/><circle cx="380.9" cy="238.9" r="2.55"/><circle cx="361.7" cy="228.1" r="2.55"/><circle cx="362.2" cy="238.3" r="2.55"/><circle cx="492.5" cy="236.2" r="2.55"/><circle cx="494.7" cy="230.8" r="2.55"/><circle cx="481.2" cy="230.6" r="2.55"/><circle cx="492.6" cy="234.3" r="2.55"/><circle cx="493.0" cy="224.4" r="2.55"/><circle cx="488.4" cy="242.1" r="2.55"/><circle cx="491.1" cy="227.0" r="2.55"/><circle cx="475.0" cy="240.4" r="2.55"/><circle cx="462.4" cy="229.7" r="2.55"/><circle cx="470.8" cy="241.7" r="2.55"/><circle cx="487.3" cy="230.4" r="2.55"/><circle cx="482.3" cy="242.5" r="2.55"/><circle cx="500.0" cy="229.2" r="2.55"/><circle cx="499.2" cy="227.7" r="2.55"/><circle cx="485.4" cy="234.7" r="2.55"/><circle cx="492.5" cy="230.4" r="2.55"/><circle cx="508.8" cy="238.7" r="2.55"/><circle cx="517.5" cy="237.6" r="2.55"/><circle cx="521.9" cy="226.9" r="2.55"/><circle cx="493.8" cy="226.7" r="2.55"/><circle cx="536.5" cy="229.2" r="2.55"/><circle cx="513.6" cy="238.4" r="2.55"/><circle cx="492.9" cy="241.1" r="2.55"/><circle cx="511.0" cy="227.0" r="2.55"/><circle cx="504.3" cy="233.6" r="2.55"/><circle cx="518.0" cy="233.0" r="2.55"/><circle cx="490.7" cy="244.3" r="2.55"/><circle cx="492.1" cy="240.6" r="2.55"/><circle cx="534.9" cy="243.4" r="2.55"/><circle cx="493.7" cy="234.0" r="2.55"/><circle cx="502.2" cy="237.3" r="2.55"/><circle cx="536.9" cy="233.9" r="2.55"/><circle cx="530.8" cy="228.4" r="2.55"/><circle cx="495.8" cy="230.3" r="2.55"/><circle cx="492.6" cy="230.3" r="2.55"/><circle cx="496.2" cy="226.7" r="2.55"/><circle cx="503.1" cy="238.1" r="2.55"/><circle cx="553.4" cy="236.3" r="2.55"/><circle cx="574.2" cy="227.7" r="2.55"/><circle cx="546.3" cy="244.6" r="2.55"/><circle cx="561.4" cy="243.3" r="2.55"/><circle cx="547.6" cy="231.9" r="2.55"/><circle cx="561.7" cy="227.9" r="2.55"/><circle cx="544.4" cy="235.1" r="2.55"/><circle cx="538.5" cy="239.4" r="2.55"/><circle cx="561.3" cy="236.8" r="2.55"/><circle cx="558.1" cy="237.3" r="2.55"/><circle cx="558.5" cy="236.1" r="2.55"/><circle cx="551.6" cy="230.9" r="2.55"/><circle cx="566.0" cy="235.6" r="2.55"/><circle cx="539.9" cy="243.0" r="2.55"/><circle cx="97.2" cy="217.7" r="2.55"/><circle cx="97.2" cy="223.9" r="2.55"/><circle cx="104.5" cy="215.3" r="2.55"/><circle cx="114.3" cy="217.7" r="2.55"/><circle cx="110.4" cy="223.9" r="2.55"/><circle cx="103.4" cy="223.9" r="2.55"/><circle cx="127.3" cy="227.3" r="2.55"/><circle cx="135.1" cy="229.4" r="2.55"/><circle cx="144.8" cy="234.8" r="2.55"/><circle cx="146.4" cy="234.0" r="2.55"/><circle cx="130.4" cy="236.4" r="2.55"/><circle cx="137.0" cy="236.4" r="2.55"/><circle cx="128.9" cy="241.6" r="2.55"/><circle cx="142.9" cy="244.7" r="2.55"/><circle cx="149.2" cy="247.7" r="2.55"/><circle cx="137.6" cy="256.5" r="2.55"/><circle cx="105.0" cy="250.0" r="2.55"/><circle cx="112.8" cy="251.6" r="2.55"/><circle cx="121.7" cy="250.0" r="2.55"/><circle cx="155.0" cy="218.4" r="2.55"/><circle cx="155.0" cy="227.0" r="2.55"/><circle cx="119.0" cy="231.7" r="2.55"/><circle cx="118.2" cy="240.3" r="2.55"/><circle cx="98.0" cy="243.4" r="2.55"/><circle cx="109.7" cy="245.0" r="2.55"/><circle cx="155.5" cy="218.1" r="2.55"/><circle cx="155.5" cy="226.2" r="2.55"/><circle cx="164.4" cy="222.3" r="2.55"/><circle cx="172.7" cy="219.7" r="2.55"/><circle cx="173.4" cy="227.0" r="2.55"/><circle cx="186.0" cy="223.0" r="2.55"/><circle cx="191.4" cy="221.6" r="2.55"/><circle cx="196.1" cy="228.6" r="2.55"/><circle cx="210.2" cy="223.9" r="2.55"/><circle cx="215.3" cy="220.8" r="2.55"/><circle cx="204.7" cy="231.0" r="2.55"/><circle cx="159.4" cy="238.8" r="2.55"/><circle cx="165.6" cy="241.9" r="2.55"/><circle cx="168.8" cy="245.8" r="2.55"/><circle cx="175.0" cy="250.5" r="2.55"/><circle cx="181.2" cy="252.0" r="2.55"/><circle cx="188.3" cy="248.9" r="2.55"/><circle cx="180.5" cy="257.5" r="2.55"/><circle cx="188.8" cy="260.6" r="2.55"/><circle cx="159.7" cy="260.6" r="2.55"/><circle cx="168.4" cy="263.8" r="2.55"/><circle cx="198.4" cy="257.5" r="2.55"/><circle cx="198.8" cy="261.9" r="2.55"/><circle cx="204.4" cy="248.9" r="2.55"/><circle cx="211.7" cy="245.0" r="2.55"/><circle cx="221.1" cy="246.6" r="2.55"/><circle cx="216.9" cy="257.5" r="2.55"/><circle cx="195.3" cy="241.9" r="2.55"/><circle cx="193.8" cy="237.2" r="2.55"/><circle cx="181.2" cy="237.2" r="2.55"/><circle cx="209.4" cy="237.2" r="2.55"/><circle cx="288.1" cy="220.0" r="2.55"/><circle cx="282.7" cy="224.7" r="2.55"/><circle cx="292.8" cy="227.0" r="2.55"/><circle cx="308.4" cy="222.3" r="2.55"/><circle cx="323.3" cy="224.7" r="2.55"/><circle cx="330.0" cy="219.2" r="2.55"/><circle cx="331.1" cy="225.5" r="2.55"/><circle cx="275.6" cy="232.5" r="2.55"/><circle cx="274.0" cy="252.8" r="2.55"/><circle cx="277.5" cy="249.7" r="2.55"/><circle cx="289.7" cy="249.7" r="2.55"/><circle cx="316.6" cy="253.6" r="2.55"/><circle cx="331.1" cy="249.7" r="2.55"/><circle cx="331.9" cy="255.2" r="2.55"/><circle cx="338.0" cy="252.8" r="2.55"/><circle cx="336.6" cy="228.6" r="2.55"/><circle cx="299.0" cy="229.4" r="2.55"/><circle cx="317.8" cy="228.6" r="2.55"/><circle cx="297.5" cy="246.6" r="2.55"/><circle cx="305.3" cy="243.4" r="2.55"/><circle cx="343.3" cy="218.8" r="2.55"/><circle cx="352.7" cy="221.6" r="2.55"/><circle cx="359.7" cy="223.1" r="2.55"/><circle cx="374.5" cy="224.7" r="2.55"/><circle cx="380.0" cy="228.6" r="2.55"/><circle cx="395.6" cy="231.2" r="2.55"/><circle cx="399.5" cy="231.2" r="2.55"/><circle cx="402.7" cy="225.5" r="2.55"/><circle cx="331.6" cy="224.7" r="2.55"/><circle cx="384.7" cy="239.5" r="2.55"/><circle cx="387.8" cy="239.5" r="2.55"/><circle cx="381.6" cy="239.5" r="2.55"/><circle cx="394.8" cy="245.8" r="2.55"/><circle cx="390.2" cy="252.0" r="2.55"/><circle cx="376.1" cy="246.6" r="2.55"/><circle cx="371.9" cy="246.6" r="2.55"/><circle cx="350.3" cy="250.5" r="2.55"/><circle cx="337.8" cy="252.5" r="2.55"/><circle cx="331.6" cy="255.2" r="2.55"/><circle cx="348.0" cy="245.8" r="2.55"/><circle cx="375.3" cy="251.2" r="2.55"/><circle cx="454.1" cy="182.8" r="2.55"/><circle cx="454.7" cy="193.4" r="2.55"/><circle cx="455.2" cy="199.4" r="2.55"/><circle cx="458.8" cy="207.2" r="2.55"/><circle cx="456.2" cy="216.1" r="2.55"/><circle cx="456.7" cy="220.8" r="2.55"/><circle cx="459.1" cy="223.9" r="2.55"/><circle cx="461.4" cy="221.6" r="2.55"/><circle cx="459.1" cy="228.6" r="2.55"/><circle cx="460.6" cy="234.0" r="2.55"/><circle cx="471.6" cy="216.1" r="2.55"/><circle cx="478.6" cy="215.3" r="2.55"/><circle cx="470.0" cy="228.6" r="2.55"/><circle cx="477.0" cy="224.7" r="2.55"/><circle cx="481.0" cy="227.0" r="2.55"/><circle cx="476.2" cy="230.2" r="2.55"/><circle cx="466.9" cy="235.6" r="2.55"/><circle cx="470.0" cy="239.5" r="2.55"/><circle cx="473.1" cy="241.9" r="2.55"/><circle cx="475.5" cy="235.6" r="2.55"/><circle cx="465.3" cy="224.7" r="2.55"/><circle cx="463.8" cy="227.8" r="2.55"/><circle cx="487.0" cy="224.7" r="2.55"/><circle cx="487.0" cy="228.6" r="2.55"/><circle cx="496.8" cy="216.9" r="2.55"/><circle cx="469.4" cy="239.3" r="2.55"/><circle cx="485.0" cy="236.4" r="2.55"/><circle cx="490.9" cy="239.3" r="2.55"/><circle cx="495.8" cy="244.2" r="2.55"/><circle cx="497.7" cy="231.5" r="2.55"/><circle cx="501.6" cy="234.5" r="2.55"/><circle cx="501.6" cy="243.2" r="2.55"/><circle cx="522.2" cy="196.7" r="2.55"/><circle cx="496.7" cy="216.6" r="2.55"/><circle cx="508.6" cy="218.6" r="2.55"/><circle cx="487.8" cy="225.5" r="2.55"/><circle cx="497.1" cy="228.3" r="2.55"/><circle cx="490.2" cy="239.4" r="2.55"/><circle cx="496.1" cy="243.2" r="2.55"/><circle cx="502.6" cy="246.0" r="2.55"/><circle cx="511.0" cy="250.6" r="2.55"/><circle cx="524.0" cy="247.8" r="2.55"/><circle cx="531.4" cy="247.8" r="2.55"/><circle cx="538.0" cy="245.0" r="2.55"/><circle cx="510.0" cy="229.2" r="2.55"/><circle cx="518.4" cy="225.5" r="2.55"/><circle cx="527.7" cy="223.7" r="2.55"/><circle cx="536.1" cy="225.5" r="2.55"/><circle cx="540.7" cy="229.2" r="2.55"/><circle cx="509.1" cy="239.4" r="2.55"/><circle cx="517.5" cy="240.4" r="2.55"/><circle cx="525.9" cy="237.6" r="2.55"/><circle cx="533.3" cy="241.3" r="2.55"/><circle cx="542.6" cy="239.4" r="2.55"/><circle cx="549.6" cy="215.8" r="2.55"/><circle cx="570.7" cy="218.6" r="2.55"/><circle cx="575.7" cy="220.4" r="2.55"/><circle cx="556.6" cy="223.2" r="2.55"/><circle cx="567.4" cy="224.1" r="2.55"/><circle cx="540.8" cy="225.7" r="2.55"/><circle cx="552.4" cy="228.2" r="2.55"/><circle cx="561.6" cy="228.2" r="2.55"/><circle cx="574.9" cy="232.4" r="2.55"/><circle cx="537.5" cy="244.8" r="2.55"/><circle cx="545.0" cy="243.2" r="2.55"/><circle cx="550.0" cy="239.8" r="2.55"/><circle cx="563.2" cy="243.2" r="2.55"/><circle cx="564.1" cy="247.3" r="2.55"/><circle cx="561.6" cy="253.1" r="2.55"/><circle cx="559.1" cy="258.1" r="2.55"/><circle cx="577.9" cy="243.5" r="2.55"/><circle cx="577.4" cy="248.2" r="2.55"/><circle cx="573.2" cy="237.4" r="2.55"/><circle cx="155.9" cy="234.8" r="2.55"/><circle cx="159.0" cy="227.2" r="2.55"/><circle cx="167.9" cy="231.6" r="2.55"/><circle cx="164.1" cy="241.8" r="2.55"/><circle cx="178.0" cy="240.5" r="2.55"/><circle cx="184.4" cy="226.6" r="2.55"/><circle cx="183.1" cy="232.9" r="2.55"/><circle cx="188.2" cy="221.5" r="2.55"/><circle cx="188.2" cy="248.1" r="2.55"/><circle cx="181.9" cy="249.4" r="2.55"/><circle cx="185.2" cy="221.5" r="2.55"/><circle cx="209.9" cy="224.0" r="2.55"/><circle cx="196.6" cy="228.5" r="2.55"/><circle cx="202.9" cy="229.7" r="2.55"/><circle cx="207.4" cy="230.4" r="2.55"/><circle cx="182.6" cy="229.1" r="2.55"/><circle cx="176.9" cy="224.0" r="2.55"/><circle cx="178.2" cy="241.2" r="2.55"/><circle cx="190.2" cy="240.5" r="2.55"/><circle cx="195.3" cy="243.1" r="2.55"/><circle cx="204.2" cy="248.8" r="2.55"/><circle cx="181.3" cy="249.4" r="2.55"/><circle cx="194.0" cy="235.5" r="2.55"/><circle cx="201.6" cy="238.0" r="2.55"/><circle cx="287.8" cy="220.2" r="2.55"/><circle cx="274.5" cy="236.7" r="2.55"/><circle cx="289.1" cy="244.3" r="2.55"/><circle cx="295.5" cy="246.9" r="2.55"/><circle cx="299.3" cy="243.1" r="2.55"/><circle cx="298.0" cy="230.4" r="2.55"/><circle cx="305.6" cy="230.4" r="2.55"/><circle cx="312.0" cy="227.8" r="2.55"/><circle cx="303.0" cy="240.5" r="2.55"/><circle cx="310.7" cy="241.8" r="2.55"/><circle cx="314.5" cy="253.9" r="2.55"/><circle cx="277.7" cy="239.3" r="2.55"/><circle cx="284.0" cy="239.3" r="2.55"/><circle cx="329.7" cy="218.3" r="2.55"/><circle cx="342.7" cy="218.3" r="2.55"/><circle cx="352.5" cy="220.9" r="2.55"/><circle cx="322.7" cy="224.0" r="2.55"/><circle cx="330.3" cy="225.3" r="2.55"/><circle cx="316.3" cy="253.2" r="2.55"/><circle cx="332.2" cy="255.1" r="2.55"/><circle cx="337.9" cy="252.6" r="2.55"/><circle cx="350.0" cy="250.7" r="2.55"/><circle cx="348.1" cy="246.2" r="2.55"/><circle cx="354.4" cy="245.6" r="2.55"/><circle cx="324.0" cy="243.1" r="2.55"/><circle cx="311.9" cy="222.1" r="2.55"/><circle cx="374.0" cy="224.0" r="2.55"/><circle cx="379.7" cy="229.7" r="2.55"/><circle cx="381.6" cy="238.6" r="2.55"/><circle cx="385.5" cy="239.9" r="2.55"/><circle cx="388.0" cy="239.3" r="2.55"/><circle cx="359.4" cy="222.8" r="2.55"/><circle cx="367.7" cy="230.4" r="2.55"/><circle cx="377.2" cy="244.3" r="2.55"/><circle cx="371.5" cy="247.5" r="2.55"/><circle cx="497.0" cy="216.5" r="2.55"/><circle cx="508.4" cy="218.4" r="2.55"/><circle cx="510.9" cy="250.1" r="2.55"/><circle cx="524.3" cy="247.6" r="2.55"/><circle cx="531.9" cy="248.2" r="2.55"/><circle cx="495.7" cy="244.4" r="2.55"/><circle cx="502.0" cy="245.7" r="2.55"/><circle cx="496.3" cy="230.5" r="2.55"/><circle cx="500.2" cy="230.5" r="2.55"/><circle cx="509.0" cy="229.2" r="2.55"/><circle cx="517.9" cy="225.4" r="2.55"/><circle cx="526.8" cy="223.5" r="2.55"/><circle cx="535.7" cy="223.5" r="2.55"/><circle cx="535.7" cy="229.2" r="2.55"/><circle cx="515.4" cy="240.6" r="2.55"/><circle cx="525.5" cy="240.6" r="2.55"/><circle cx="509.0" cy="238.1" r="2.55"/><circle cx="490.0" cy="239.3" r="2.55"/><circle cx="549.3" cy="215.7" r="2.55"/><circle cx="570.5" cy="218.4" r="2.55"/><circle cx="576.0" cy="220.5" r="2.55"/><circle cx="556.9" cy="222.5" r="2.55"/><circle cx="567.1" cy="223.9" r="2.55"/><circle cx="562.3" cy="227.3" r="2.55"/><circle cx="540.5" cy="227.3" r="2.55"/><circle cx="536.4" cy="224.6" r="2.55"/><circle cx="545.2" cy="229.4" r="2.55"/><circle cx="574.6" cy="232.1" r="2.55"/><circle cx="537.0" cy="245.1" r="2.55"/><circle cx="544.6" cy="242.3" r="2.55"/><circle cx="549.3" cy="240.3" r="2.55"/><circle cx="563.0" cy="247.1" r="2.55"/><circle cx="561.6" cy="252.6" r="2.55"/><circle cx="577.3" cy="243.7" r="2.55"/><circle cx="559.6" cy="239.6" r="2.55"/><circle cx="565.0" cy="241.0" r="2.55"/><circle cx="552.8" cy="232.8" r="2.55"/></g>
<clipPath id="c"><rect x="87.5" y="62.5" width="500.0" height="375.0"/></clipPath><path clip-path="url(#c)" d="M87.50,235.30 L89.50,235.30 L91.50,235.30 L93.50,235.30 L95.50,235.30 L97.50,235.30 L99.50,235.30 L101.50,235.30 L103.50,235.30 L105.50,235.30 L107.50,235.30 L109.50,235.30 L111.50,235.30 L113.50,235.30 L115.50,235.30 L117.50,235.30 L119.50,235.30 L121.50,235.30 L123.50,235.30 L125.50,235.30 L127.50,235.30 L129.50,235.30 L131.50,235.30 L133.50,235.30 L135.50,235.30 L137.50,235.30 L139.50,235.30 L141.50,235.30 L143.50,235.30 L145.50,235.30 L147.50,235.30 L149.50,235.30 L151.50,235.30 L153.50,235.30 L155.50,235.30 L157.50,235.30 L159.50,235.30 L161.50,235.30 L163.50,235.30 L165.50,235.30 L167.50,235.30 L169.50,235.30 L171.50,235.30 L173.50,235.30 L175.50,235.30 L177.50,235.30 L179.50,235.30 L181.50,235.30 L183.50,235.30 L185.50,235.30 L187.50,235.30 L189.50,235.30 L191.50,235.30 L193.50,235.30 L195.50,235.30 L197.50,235.30 L199.50,235.30 L201.50,235.30 L203.50,235.30 L205.50,235.30 L207.50,235.30 L209.50,235.30 L211.50,235.30 L213.50,235.30 L215.50,235.30 L217.50,235.30 L219.50,235.30 L221.50,235.30 L223.50,235.30 L225.50,235.30 L227.50,235.30 L229.50,235.30 L231.50,235.30 L233.50,235.30 L235.50,235.30 L237.50,235.30 L239.50,235.30 L241.50,235.30 L243.50,235.30 L245.50,235.30 L247.50,235.30 L249.50,235.30 L251.50,235.30 L253.50,235.30 L255.50,235.30 L257.50,235.30 L259.50,235.30 L261.50,235.30 L263.50,235.30 L265.50,235.30 L267.50,235.30 L269.50,235.30 L271.50,235.30 L273.50,235.30 L275.50,235.30 L277.50,235.30 L279.50,235.30 L281.50,235.30 L283.50,235.30 L285.50,235.30 L287.50,235.30 L289.50,235.30 L291.50,235.30 L293.50,235.30 L295.50,235.30 L297.50,235.30 L299.50,235.30 L301.50,235.30 L303.50,235.30 L305.50,235.30 L307.50,235.30 L309.50,235.30 L311.50,235.30 L313.50,235.30 L315.50,235.30 L317.50,235.29 L319.50,235.29 L321.50,235.29 L323.50,235.29 L325.50,235.29 L327.50,235.29 L329.50,235.29 L331.50,235.29 L333.50,235.29 L335.50,235.29 L337.50,235.29 L339.50,235.29 L341.50,235.29 L343.50,235.29 L345.50,235.29 L347.50,235.29 L349.50,235.28 L351.50,235.28 L353.50,235.28 L355.50,235.28 L357.50,235.28 L359.50,235.28 L361.50,235.27 L363.50,235.27 L365.50,235.27 L367.50,235.26 L369.50,235.26 L371.50,235.26 L373.50,235.25 L375.50,235.24 L377.50,235.24 L379.50,235.23 L381.50,235.22 L383.50,235.21 L385.50,235.20 L387.50,235.18 L389.50,235.17 L391.50,235.14 L393.50,235.12 L395.50,235.09 L397.50,235.05 L399.50,235.01 L401.50,234.95 L403.50,234.89 L405.50,234.80 L407.50,234.69 L409.50,234.55 L411.50,234.37 L413.50,234.13 L415.50,233.81 L417.50,233.38 L419.50,232.78 L420.00,232.60 L420.25,232.50 L420.50,232.40 L420.75,232.29 L421.00,232.18 L421.25,232.06 L421.50,231.94 L421.75,231.81 L422.00,231.68 L422.25,231.54 L422.50,231.39 L422.75,231.24 L423.00,231.08 L423.25,230.91 L423.50,230.73 L423.75,230.55 L424.00,230.35 L424.25,230.15 L424.50,229.93 L424.75,229.71 L425.00,229.47 L425.25,229.22 L425.50,228.96 L425.75,228.68 L426.00,228.39 L426.25,228.08 L426.50,227.76 L426.75,227.42 L427.00,227.06 L427.25,226.68 L427.50,226.28 L427.75,225.85 L428.00,225.41 L428.25,224.94 L428.50,224.44 L428.75,223.91 L429.00,223.35 L429.25,222.76 L429.50,222.13 L429.75,221.47 L430.00,220.77 L430.25,220.02 L430.50,219.23 L430.75,218.39 L431.00,217.50 L431.25,216.55 L431.50,215.54 L431.75,214.47 L432.00,213.33 L432.25,212.12 L432.50,210.82 L432.75,209.45 L433.00,207.98 L433.25,206.42 L433.50,204.76 L433.75,202.98 L434.00,201.08 L434.25,199.06 L434.50,196.90 L434.75,194.59 L435.00,192.12 L435.25,189.49 L435.50,186.67 L435.75,183.65 L436.00,180.43 L436.25,176.98 L436.50,173.29 L436.75,169.34 L437.00,165.11 L437.25,160.59 L437.50,155.74 L437.75,150.56 L438.00,145.01 L438.25,139.08 L438.50,132.72 L438.75,125.93 L439.00,118.66 L439.25,110.90 L439.50,102.60 L439.75,93.74 L440.00,84.30 L440.25,74.23 L440.50,63.52 L440.75,52.14 L441.00,40.06 L441.25,27.29 L441.50,13.81 L441.75,-0.35 L442.00,-15.16 L442.25,-30.56 L442.50,-46.42 L442.75,-62.59 L443.00,-78.84 L443.25,-94.84 L443.50,-110.18 L443.75,-124.35 L444.00,-136.74 L444.25,-146.70 L444.50,-153.62 L444.75,-157.01 L445.00,-156.63 L445.25,-152.50 L445.50,-144.93 L445.75,-134.43 L446.00,-121.64 L446.25,-107.19 L446.50,-91.68 L446.75,-75.59 L447.00,-59.34 L447.25,-43.21 L447.50,-27.43 L447.75,-12.15 L448.00,2.53 L448.25,16.56 L448.50,29.90 L448.75,42.53 L449.00,54.47 L449.25,65.72 L449.50,76.30 L449.75,86.24 L450.00,95.56 L450.25,104.30 L450.50,112.49 L450.75,120.15 L451.00,127.32 L451.25,134.03 L451.50,140.29 L451.75,146.15 L452.00,151.63 L452.25,156.74 L452.50,161.52 L452.75,165.98 L453.00,170.15 L453.25,174.05 L453.50,177.69 L453.75,181.09 L454.00,184.27 L454.25,187.25 L454.50,190.03 L454.75,192.63 L455.00,195.06 L455.25,197.34 L455.50,199.48 L455.75,201.47 L456.00,203.34 L456.25,205.10 L456.50,206.74 L456.75,208.28 L457.00,209.73 L457.25,211.09 L457.50,212.36 L457.75,213.56 L458.00,214.69 L458.25,215.75 L458.50,216.74 L458.75,217.68 L459.00,218.56 L459.25,219.39 L459.50,220.17 L459.75,220.91 L460.00,221.61 L460.25,222.26 L460.50,222.88 L460.75,223.47 L461.00,224.02 L461.25,224.54 L461.50,225.03 L461.75,225.50 L462.00,225.94 L462.25,226.36 L462.50,226.76 L462.75,227.13 L463.00,227.49 L463.25,227.82 L463.50,228.14 L463.75,228.45 L464.00,228.74 L464.25,229.01 L464.50,229.27 L464.75,229.52 L465.00,229.75 L465.25,229.98 L465.50,230.19 L465.75,230.39 L466.00,230.58 L466.25,230.77 L466.50,230.94 L466.75,231.11 L467.00,231.27 L467.25,231.42 L467.50,231.57 L467.75,231.71 L468.00,231.84 L468.25,231.97 L468.50,232.09 L468.75,232.20 L469.00,232.31 L469.25,232.42 L469.50,232.52 L469.75,232.62 L470.00,232.71 L472.00,233.33 L474.00,233.78 L476.00,234.10 L478.00,234.35 L480.00,234.54 L482.00,234.68 L484.00,234.79 L486.00,234.88 L488.00,234.95 L490.00,235.00 L492.00,235.05 L494.00,235.09 L496.00,235.12 L498.00,235.14 L500.00,235.16 L502.00,235.18 L504.00,235.20 L506.00,235.21 L508.00,235.22 L510.00,235.23 L512.00,235.24 L514.00,235.24 L516.00,235.25 L518.00,235.25 L520.00,235.26 L522.00,235.26 L524.00,235.27 L526.00,235.27 L528.00,235.27 L530.00,235.28 L532.00,235.28 L534.00,235.28 L536.00,235.28 L538.00,235.28 L540.00,235.28 L542.00,235.29 L544.00,235.29 L546.00,235.29 L548.00,235.29 L550.00,235.29 L552.00,235.29 L554.00,235.29 L556.00,235.29 L558.00,235.29 L560.00,235.29 L562.00,235.29 L564.00,235.29 L566.00,235.29 L568.00,235.29 L570.00,235.29 L572.00,235.29 L574.00,235.30 L576.00,235.30 L578.00,235.30 L580.00,235.30 L582.00,235.30 L584.00,235.30 L586.00,235.30" fill="none" stroke="#ff00ff" stroke-width="1.05"/>
<g stroke="#000" stroke-width="0.4">
<text x="337.7" y="41.5" font-size="20" text-anchor="middle" textLength="198.5" lengthAdjust="spacingAndGlyphs">OGLE-2018-BLG-0202</text>
<text x="180.2" y="463" font-size="20" text-anchor="middle" textLength="41" lengthAdjust="spacingAndGlyphs">7600</text>
<text x="277.75" y="463" font-size="20" text-anchor="middle" textLength="41" lengthAdjust="spacingAndGlyphs">7800</text>
<text x="375.30" y="463" font-size="20" text-anchor="middle" textLength="41" lengthAdjust="spacingAndGlyphs">8000</text>
<text x="472.85" y="463" font-size="20" text-anchor="middle" textLength="41" lengthAdjust="spacingAndGlyphs">8200</text>
<text x="570.40" y="463" font-size="20" text-anchor="middle" textLength="41" lengthAdjust="spacingAndGlyphs">8400</text>
<text x="337" y="492" font-size="20" text-anchor="middle" textLength="127" lengthAdjust="spacingAndGlyphs">HJD - 2450000</text>
<text x="77.8" y="150.5" font-size="20" text-anchor="end" textLength="35" lengthAdjust="spacingAndGlyphs">17.5</text>
<text x="77.8" y="294.4" font-size="20" text-anchor="end" textLength="19.5" lengthAdjust="spacingAndGlyphs">18</text>
<text x="77.8" y="438.3" font-size="20" text-anchor="end" textLength="35" lengthAdjust="spacingAndGlyphs">18.5</text>
<text transform="translate(27.3,249.3) rotate(-90)" font-size="20" text-anchor="middle" textLength="104.7" lengthAdjust="spacingAndGlyphs">I magnitude</text>
</g>
</svg></body></html>
